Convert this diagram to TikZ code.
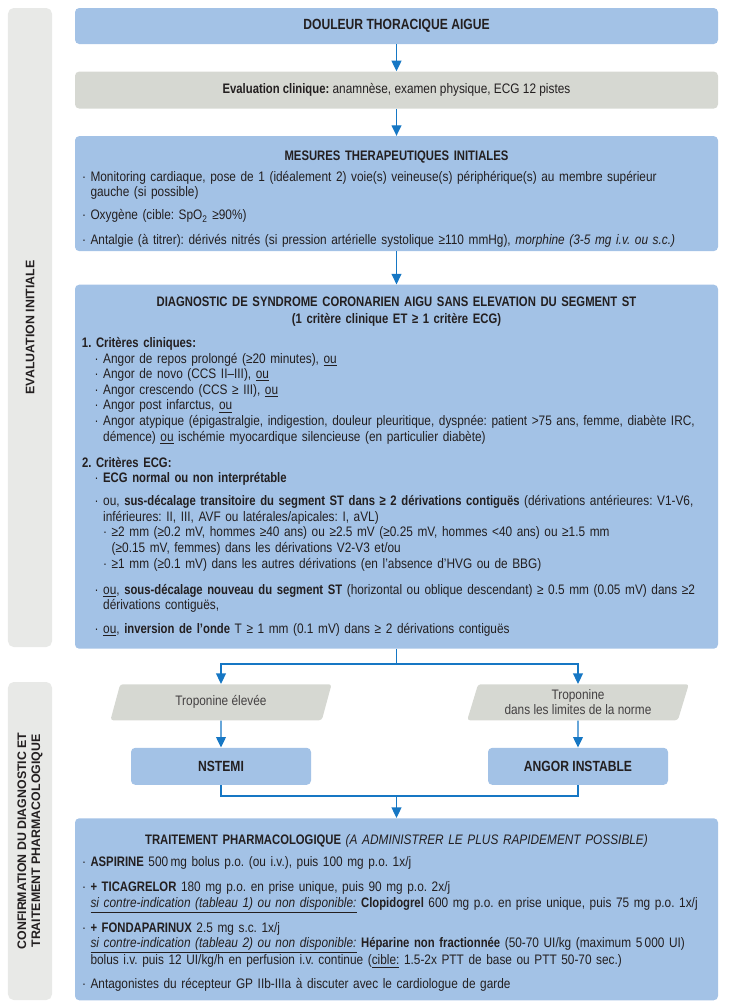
\documentclass[tikz,border=0pt]{standalone}
\usepackage{fontspec}
\setmainfont{Liberation Sans}[
  UprightFeatures={FakeStretch=0.86}, ItalicFeatures={FakeStretch=0.86},
  BoldFeatures={FakeStretch=0.82}, BoldItalicFeatures={FakeStretch=0.82}]
\newfontfamily\bandfont{Liberation Sans}
\usepackage{xcolor}
\usetikzlibrary{arrows.meta,shapes.geometric,positioning}
\frenchspacing

\definecolor{boxblue}{HTML}{A3C2E6}
\definecolor{boxgray}{HTML}{D6D8D2}
\definecolor{bandgray}{HTML}{E8E9E7}
\definecolor{flowblue}{HTML}{1677C4}
\definecolor{inkdark}{HTML}{231F20}

\newcommand{\bul}{·\ }
\newcommand{\ind}{\hphantom{·\ }}
\newcommand{\titleline}[1]{\hspace*{\fill}#1\hspace*{\fill}\null}

\begin{document}
\begin{tikzpicture}[
  font=\fontsize{9.8}{11.1}\selectfont,
  text=inkdark,
  box/.style={rectangle, rounded corners=3pt, minimum width=16.075cm, inner xsep=0.175cm, inner ysep=0pt},
  bluebox/.style={box, fill=boxblue},
  graybox/.style={box, fill=boxgray},
  textbox/.style={bluebox, text width=15.725cm, align=left},
  tropbox/.style={trapezium, trapezium left angle=74, trapezium right angle=106, trapezium stretches=true,
    rounded corners=2pt, fill=boxgray, minimum width=5.55cm, minimum height=0.9cm, align=center, inner sep=1pt, text=inkdark!85},
  resultbox/.style={rectangle, rounded corners=3pt, fill=boxblue, minimum width=4.5cm, minimum height=0.925cm,
    font=\fontsize{10.5}{12}\selectfont\bfseries},
  band/.style={rectangle, rounded corners=4pt, fill=bandgray, rotate=90, minimum height=1.1cm, align=center,
    font=\bandfont\fontsize{8.8}{10}\selectfont\bfseries},
  arrow/.style={-{Triangle[length=7.5pt,width=7pt]}, line width=0.9pt, flowblue},
  link/.style={line width=0.9pt, flowblue}
]
  \useasboundingbox (0,0) rectangle (18.2,-25.075);

  % side bands
  \node[band, minimum width=15.975cm] (bandeval) at (0.75,-8.1875) {EVALUATION INITIALE};
  \node[band, minimum width=7.95cm] (bandconf) at (0.75,-21.025) {CONFIRMATION DU DIAGNOSTIC ET\\TRAITEMENT PHARMACOLOGIQUE};

  % main column
  \node[bluebox, minimum height=0.9cm, font=\fontsize{10.5}{12}\selectfont\bfseries] (pain) at (9.9125,-0.65) {DOULEUR THORACIQUE AIGUE};
  \node[graybox, minimum height=0.925cm, below=0.675cm of pain] (eval) {\textbf{Evaluation clinique:} anamnèse, examen physique, ECG 12 pistes};
  \node[textbox, minimum height=2.875cm, below=0.675cm of eval] (mesures) {%
    \titleline{\rule{0pt}{14pt}\textbf{MESURES THERAPEUTIQUES INITIALES}}\\[3.8pt]
    \bul Monitoring cardiaque, pose de 1 (idéalement 2) voie(s) veineuse(s) périphérique(s) au membre supérieur\\
    \ind gauche (si possible)\\[5.5pt]
    \bul Oxygène (cible: SpO\textsubscript{2} ≥90\%)\\[6pt]
    \bul Antalgie (à titrer): dérivés nitrés (si pression artérielle systolique ≥110 mmHg), \textit{morphine (3-5 mg i.v. ou s.c.)}};
  \node[textbox, minimum height=9.1cm, below=0.825cm of mesures] (diag) {%
    \titleline{\textbf{DIAGNOSTIC DE SYNDROME CORONARIEN AIGU SANS ELEVATION DU SEGMENT ST}}\\[1pt]
    \titleline{\textbf{(1 critère clinique ET ≥ 1 critère ECG)}}\\[6pt]
    \textbf{1. Critères cliniques:}\\
    \hspace*{9pt}\bul Angor de repos prolongé (≥20 minutes), \underline{ou}\\
    \hspace*{9pt}\bul Angor de novo (CCS II–III), \underline{ou}\\
    \hspace*{9pt}\bul Angor crescendo (CCS ≥ III), \underline{ou}\\
    \hspace*{9pt}\bul Angor post infarctus, \underline{ou}\\
    \hspace*{9pt}\bul Angor atypique (épigastralgie, indigestion, douleur pleuritique, dyspnée: patient >75 ans, femme, diabète IRC,\\
    \hspace*{9pt}\ind démence) \underline{ou} ischémie myocardique silencieuse (en particulier diabète)\\[7.4pt]
    \textbf{2. Critères ECG:}\\
    \hspace*{9pt}\bul\textbf{ECG normal ou non interprétable}\\[5.2pt]
    \hspace*{9pt}\bul ou, \textbf{sus-décalage transitoire du segment ST dans ≥ 2 dérivations contiguës} (dérivations antérieures: V1-V6,\\
    \hspace*{9pt}\ind inférieures: II, III, AVF ou latérales/apicales: I, aVL)\\
    \hspace*{9pt}\ind\bul ≥2 mm (≥0.2 mV, hommes ≥40 ans) ou ≥2.5 mV (≥0.25 mV, hommes <40 ans) ou ≥1.5 mm\\
    \hspace*{9pt}\ind\ind(≥0.15 mV, femmes) dans les dérivations V2-V3 et/ou\\
    \hspace*{9pt}\ind\bul ≥1 mm (≥0.1 mV) dans les autres dérivations (en l'absence d'HVG ou de BBG)\\[7.4pt]
    \hspace*{9pt}\bul\underline{ou}, \textbf{sous-décalage nouveau du segment ST} (horizontal ou oblique descendant) ≥ 0.5 mm (0.05 mV) dans ≥2\\
    \hspace*{9pt}\ind dérivations contiguës,\\[6pt]
    \hspace*{9pt}\bul\underline{ou}, \textbf{inversion de l'onde} T ≥ 1 mm (0.1 mV) dans ≥ 2 dérivations contiguës};

  % troponine branches
  \node[tropbox, below=0.875cm of diag.south, xshift=-4.3875cm] (tropup) {Troponine élevée};
  \node[tropbox, below=0.875cm of diag.south, xshift=4.5375cm] (tropnorm) {Troponine\\dans les limites de la norme};
  \node[resultbox, below=0.675cm of tropup] (nstemi) {NSTEMI};
  \node[resultbox, below=0.675cm of tropnorm] (angor) {ANGOR INSTABLE};

  \node[textbox, minimum height=4.55cm, anchor=north] (treat) at (9.9125,-20.45) {%
    \titleline{\rule{0pt}{12.5pt}\textbf{TRAITEMENT PHARMACOLOGIQUE} \textit{(A ADMINISTRER LE PLUS RAPIDEMENT POSSIBLE)}}\\[4.8pt]
    \bul\textbf{ASPIRINE} 500\,mg bolus p.o. (ou i.v.), puis 100 mg p.o. 1x/j\\[6.6pt]
    \bul\textbf{+ TICAGRELOR} 180 mg p.o. en prise unique, puis 90 mg p.o. 2x/j\\
    \ind\underline{\textit{si contre-indication (tableau 1) ou non disponible:}} \textbf{Clopidogrel} 600 mg p.o. en prise unique, puis 75 mg p.o. 1x/j\\[5.6pt]
    \bul\textbf{+ FONDAPARINUX} 2.5 mg s.c. 1x/j\\
    \ind\underline{\textit{si contre-indication (tableau 2) ou non disponible:}} \textbf{Héparine non fractionnée} (50-70 UI/kg (maximum 5\,000 UI)\\
    \ind bolus i.v. puis 12 UI/kg/h en perfusion i.v. continue (\underline{cible:} 1.5-2x PTT de base ou PTT 50-70 sec.)\\[5.8pt]
    \bul Antagonistes du récepteur GP IIb-IIIa à discuter avec le cardiologue de garde};

  % connectors
  \draw[arrow] (pain) -- (eval);
  \draw[arrow] (eval) -- (mesures);
  \draw[arrow] (mesures) -- (diag);
  \coordinate[below=0.375cm of diag.south] (split);
  \draw[link] (diag.south) -- (split);
  \draw[arrow] (split) -| (tropup.north);
  \draw[arrow] (split) -| (tropnorm.north);
  \draw[arrow] (tropup) -- (nstemi);
  \draw[arrow] (tropnorm) -- (angor);
  \coordinate[above=0.55cm of treat.north] (merge);
  \draw[link] (nstemi.south) |- (merge) -| (angor.south);
  \draw[arrow] (merge) -- (treat);
\end{tikzpicture}
\end{document}
